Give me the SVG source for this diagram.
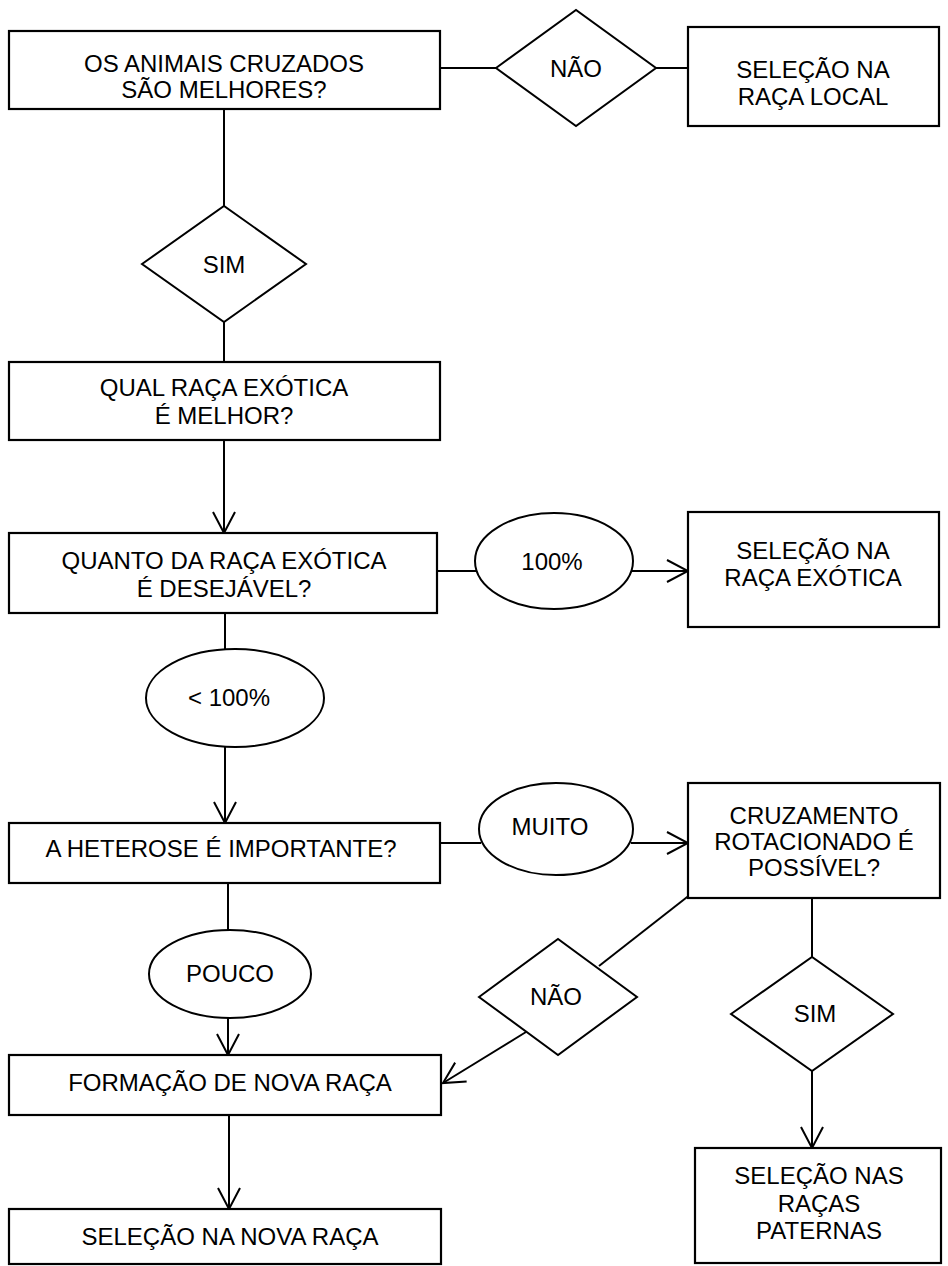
<svg xmlns="http://www.w3.org/2000/svg" width="948" height="1266" viewBox="0 0 948 1266">
<defs>
<style>
.box{fill:#fff;stroke:#000;stroke-width:2.2}
.shape{fill:#fff;stroke:#000;stroke-width:2}
.ln{fill:none;stroke:#000;stroke-width:2}
.arr{marker-end:url(#v)}
text{font-family:"Liberation Sans",Arial,sans-serif;font-size:24px;fill:#000;text-anchor:middle;dominant-baseline:central}
</style>
<marker id="v" markerUnits="userSpaceOnUse" viewBox="0 0 24 24" refX="22" refY="12" markerWidth="24" markerHeight="24" orient="auto">
<path d="M1,1 L22,12 L1,23" fill="none" stroke="#000" stroke-width="2"/>
</marker>
</defs>
<rect width="948" height="1266" fill="#fff"/>
<g id="connectors">
<line class="ln" x1="440" y1="68" x2="496" y2="68"/>
<line class="ln" x1="656" y1="68" x2="688" y2="68"/>
<line class="ln" x1="224" y1="109" x2="224" y2="206"/>
<line class="ln" x1="224" y1="322" x2="224" y2="362"/>
<line class="ln arr" x1="224" y1="440" x2="224" y2="533"/>
<line class="ln" x1="437" y1="571" x2="476" y2="571"/>
<line class="ln arr" x1="631" y1="571" x2="688" y2="571"/>
<line class="ln" x1="225" y1="613" x2="225" y2="650"/>
<line class="ln arr" x1="225" y1="747" x2="225" y2="823"/>
<line class="ln" x1="440" y1="843" x2="481" y2="843"/>
<line class="ln arr" x1="631" y1="843" x2="688" y2="843"/>
<line class="ln" x1="228" y1="883" x2="228" y2="930"/>
<line class="ln arr" x1="228" y1="1018" x2="228" y2="1055"/>
<line class="ln arr" x1="229" y1="1115" x2="229" y2="1209"/>
<line class="ln" x1="691" y1="894" x2="599" y2="966"/>
<line class="ln arr" x1="526" y1="1032" x2="443" y2="1083"/>
<line class="ln" x1="812" y1="898" x2="812" y2="957"/>
<line class="ln arr" x1="812" y1="1071" x2="812" y2="1148"/>
</g>
<g id="n1"><rect class="box" x="9" y="31" width="431" height="78"/><text x="224" y="63">OS ANIMAIS CRUZADOS</text><text x="224" y="89">SÃO MELHORES?</text></g>
<g id="d1"><polygon class="shape" points="496,68 576,10 656,68 576,126"/><text x="576" y="68">NÃO</text></g>
<g id="n2"><rect class="box" x="688" y="27" width="251" height="99"/><text x="813" y="69">SELEÇÃO NA</text><text x="813" y="96">RAÇA LOCAL</text></g>
<g id="d2"><polygon class="shape" points="142,264 224,206 306,264 224,322"/><text x="224" y="264">SIM</text></g>
<g id="n3"><rect class="box" x="9" y="362" width="431" height="78"/><text x="224" y="387">QUAL RAÇA EXÓTICA</text><text x="224" y="415">É MELHOR?</text></g>
<g id="n4"><rect class="box" x="9" y="533" width="428" height="80"/><text x="224" y="560">QUANTO DA RAÇA EXÓTICA</text><text x="224" y="588">É DESEJÁVEL?</text></g>
<g id="e1"><ellipse class="shape" cx="554" cy="561" rx="79" ry="48"/><text x="552" y="561">100%</text></g>
<g id="n5"><rect class="box" x="688" y="512" width="251" height="115"/><text x="813" y="550">SELEÇÃO NA</text><text x="813" y="577">RAÇA EXÓTICA</text></g>
<g id="e2"><ellipse class="shape" cx="235" cy="698" rx="89" ry="49"/><text x="229" y="697">&lt; 100%</text></g>
<g id="n6"><rect class="box" x="9" y="823" width="431" height="60"/><text x="221" y="848">A HETEROSE É IMPORTANTE?</text></g>
<g id="e3"><ellipse class="shape" cx="556" cy="829" rx="77" ry="46"/><text x="550" y="826">MUITO</text></g>
<g id="n7"><rect class="box" x="688" y="783" width="252" height="115"/><text x="814" y="815">CRUZAMENTO</text><text x="814" y="841">ROTACIONADO É</text><text x="814" y="867">POSSÍVEL?</text></g>
<g id="e4"><ellipse class="shape" cx="230" cy="974" rx="81" ry="44"/><text x="230" y="973">POUCO</text></g>
<g id="d3"><polygon class="shape" points="479,997 558,939 637,997 558,1055"/><text x="556" y="996">NÃO</text></g>
<g id="d4"><polygon class="shape" points="731,1014 812,957 893,1014 812,1071"/><text x="815" y="1013">SIM</text></g>
<g id="n8"><rect class="box" x="9" y="1055" width="432" height="60"/><text x="230" y="1082">FORMAÇÃO DE NOVA RAÇA</text></g>
<g id="n9"><rect class="box" x="9" y="1209" width="432" height="55"/><text x="230" y="1236">SELEÇÃO NA NOVA RAÇA</text></g>
<g id="n10"><rect class="box" x="695" y="1148" width="246" height="115"/><text x="819" y="1175">SELEÇÃO NAS</text><text x="819" y="1203">RAÇAS</text><text x="819" y="1230">PATERNAS</text></g>
</svg>
